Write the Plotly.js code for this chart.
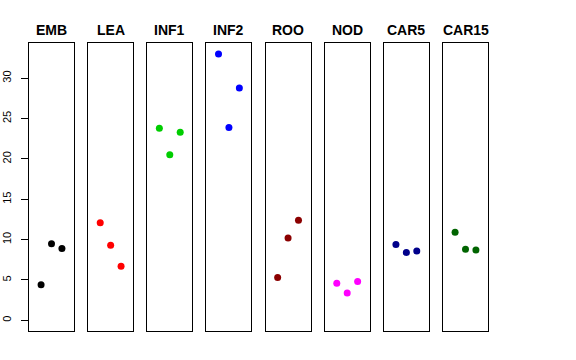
<!DOCTYPE html>
<html><head><meta charset="utf-8">
<script src="https://cdn.plot.ly/plotly-3.0.1.min.js"></script>
<style>html,body{margin:0;padding:0;background:#fff}</style>
</head><body><div id="chart" style="width:576px;height:360px"></div>
<script>
var groups = ["EMB","LEA","INF1","INF2","ROO","NOD","CAR5","CAR15"];
var xIndex = [1,2,3];
var EMB = [4.4, 9.5, 8.9];
var LEA = [12.1, 9.3, 6.7];
var INF1 = [23.8, 20.5, 23.3];
var INF2 = [33.0, 23.9, 28.8];
var ROO = [5.3, 10.2, 12.4];
var NOD = [4.6, 3.4, 4.8];
var CAR5 = [9.4, 8.4, 8.6];
var CAR15 = [10.9, 8.8, 8.7];
var values = [EMB, LEA, INF1, INF2, ROO, NOD, CAR5, CAR15];
var colors = ["#000000","#FF0000","#00CD00","#0000FF","#8B0000","#FF00FF","#00008B","#006400"];
var yTicks = [0,5,10,15,20,25,30];

var W = 576, H = 360, L = 29, R = 88, T = 43, B = 29;
var plotW = W - L - R;
var panelW = 45;
var step = (plotW - panelW) / 7;

var traces = [], layout = {
  width: W, height: H, showlegend: false,
  margin: {l: L, r: R, t: T, b: B, pad: 0},
  paper_bgcolor: "#fff", plot_bgcolor: "#fff",
  font: {family: "Liberation Sans, Arial, sans-serif", color: "#000"},
  annotations: []
};
for (var i = 0; i < groups.length; i++) {
  var s = i === 0 ? "" : String(i + 1);
  traces.push({
    type: "scatter", mode: "markers", x: xIndex, y: values[i],
    xaxis: "x" + s, yaxis: "y" + s,
    marker: {color: colors[i], size: 7}, hoverinfo: "skip"
  });
  var x0 = (i * step) / plotW, x1 = (i * step + panelW) / plotW;
  layout["xaxis" + s] = {
    domain: [x0, Math.min(x1, 1)], range: [-0.16, 4.16], anchor: "y" + s,
    showgrid: false, zeroline: false, showticklabels: false, ticks: "",
    showline: true, mirror: true, linecolor: "#000", linewidth: 1
  };
  layout["yaxis" + s] = {
    domain: [0, 1], range: [-1.32, 34.36], anchor: "x" + s,
    showgrid: false, zeroline: false,
    showline: true, mirror: true, linecolor: "#000", linewidth: 1,
    showticklabels: i === 0, ticks: i === 0 ? "outside" : "",
    tickvals: i === 0 ? yTicks : [], ticklen: 7, tickcolor: "#000",
    ticklabelstandoff: 6,
    tickangle: -90, tickfont: {size: 11, color: "#000"}
  };
  layout.annotations.push({
    text: "<b>" + groups[i] + "</b>", xref: "x" + s + " domain", yref: "paper",
    x: 0.5, y: 1, xanchor: "center", yanchor: "middle", yshift: 13,
    showarrow: false, font: {size: 14, color: "#000"}
  });
}
Plotly.newPlot("chart", traces, layout, {staticPlot: true, displayModeBar: false});
</script></body></html>
